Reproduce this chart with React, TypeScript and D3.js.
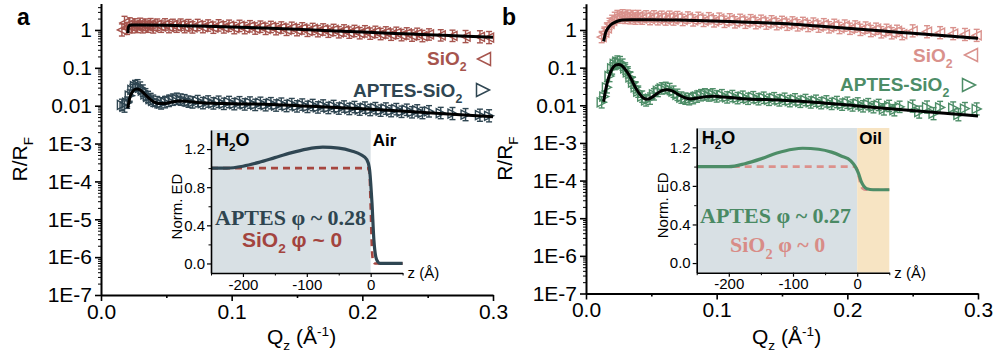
import React, { useEffect, useRef } from 'react'
import * as d3 from 'd3'

// axis ticks
const Q_TICKS = [0, 0.1, 0.2, 0.3]
const Q_MINOR = [0.05, 0.15, 0.25]
const R_TICKS = [1, 0.1, 0.01, 1e-3, 1e-4, 1e-5, 1e-6, 1e-7]
const R_LABELS = ['1', '0.1', '0.01', '1E-3', '1E-4', '1E-5', '1E-6', '1E-7']
const Z_TICKS = [-200, -100, 0]
const Z_MINOR = [-250, -150, -50, 50]
const ED_TICKS = [0, 0.4, 0.8, 1.2]
const ED_MINOR = [0.2, 0.6, 1.0]

// reflectivity data: [Qz, R/RF, error bar half-size in decades]
const SIO2_A = [
  [0.016, 1.00, 0.16], [0.018, 1.55, 0.17], [0.020, 1.10, 0.16], [0.022, 1.45, 0.16], [0.024, 1.18, 0.15],
  [0.026, 1.40, 0.15], [0.028, 1.20, 0.15], [0.030, 1.45, 0.15], [0.032, 1.18, 0.15], [0.034, 1.38, 0.15],
  [0.036, 1.22, 0.15], [0.038, 1.42, 0.15], [0.040, 1.17, 0.15], [0.043, 1.38, 0.15], [0.046, 1.22, 0.15],
  [0.049, 1.40, 0.15], [0.052, 1.19, 0.15], [0.055, 1.36, 0.15], [0.058, 1.22, 0.15], [0.061, 1.38, 0.15],
  [0.064, 1.19, 0.15], [0.067, 1.34, 0.15], [0.070, 1.17, 0.15], [0.074, 1.35, 0.15], [0.078, 1.19, 0.15],
  [0.082, 1.31, 0.15], [0.086, 1.15, 0.15], [0.090, 1.32, 0.15], [0.094, 1.17, 0.15], [0.098, 1.29, 0.15],
  [0.102, 1.12, 0.15], [0.106, 1.28, 0.15], [0.110, 1.12, 0.15], [0.114, 1.25, 0.15], [0.118, 1.09, 0.15],
  [0.122, 1.22, 0.15], [0.126, 1.07, 0.15], [0.130, 1.20, 0.15], [0.134, 1.05, 0.15], [0.138, 1.16, 0.15],
  [0.142, 1.01, 0.15], [0.146, 1.14, 0.15], [0.150, 0.99, 0.15], [0.154, 1.10, 0.15], [0.158, 0.95, 0.15],
  [0.162, 1.06, 0.15], [0.166, 0.93, 0.15], [0.170, 1.03, 0.15], [0.174, 0.90, 0.15], [0.178, 1.00, 0.15],
  [0.182, 0.87, 0.15], [0.186, 0.97, 0.15], [0.190, 0.85, 0.15], [0.194, 0.94, 0.15], [0.198, 0.82, 0.15],
  [0.202, 0.92, 0.15], [0.206, 0.80, 0.15], [0.210, 0.89, 0.15], [0.214, 0.78, 0.15], [0.218, 0.86, 0.15],
  [0.222, 0.75, 0.15], [0.226, 0.84, 0.15], [0.230, 0.73, 0.15], [0.234, 0.81, 0.15], [0.238, 0.71, 0.15],
  [0.242, 0.79, 0.15], [0.246, 0.69, 0.15], [0.251, 0.76, 0.15], [0.260, 0.72, 0.15], [0.269, 0.70, 0.15],
  [0.279, 0.67, 0.16], [0.290, 0.66, 0.16], [0.297, 0.63, 0.16],
]
const APTES_A = [
  [0.016, 0.0105, 0.15], [0.018, 0.0095, 0.15], [0.020, 0.0120, 0.15], [0.022, 0.0185, 0.15], [0.024, 0.0260, 0.15],
  [0.026, 0.0330, 0.15], [0.028, 0.0345, 0.15], [0.030, 0.0300, 0.15], [0.032, 0.0250, 0.15], [0.034, 0.0200, 0.15],
  [0.036, 0.0170, 0.15], [0.038, 0.0150, 0.15], [0.040, 0.0135, 0.15], [0.043, 0.0124, 0.15], [0.046, 0.0115, 0.15],
  [0.049, 0.0124, 0.15], [0.052, 0.0134, 0.15], [0.055, 0.0144, 0.15], [0.058, 0.0152, 0.15], [0.061, 0.0145, 0.15],
  [0.064, 0.0139, 0.15], [0.067, 0.0128, 0.15], [0.070, 0.0122, 0.15], [0.074, 0.0132, 0.15], [0.078, 0.0117, 0.15],
  [0.082, 0.0129, 0.15], [0.086, 0.0115, 0.15], [0.090, 0.0127, 0.15], [0.094, 0.0112, 0.15], [0.098, 0.0125, 0.15],
  [0.102, 0.0110, 0.15], [0.106, 0.0123, 0.15], [0.110, 0.0108, 0.15], [0.114, 0.0121, 0.15], [0.118, 0.0105, 0.15],
  [0.122, 0.0119, 0.15], [0.126, 0.0103, 0.15], [0.130, 0.0116, 0.15], [0.134, 0.0101, 0.15], [0.138, 0.0113, 0.15],
  [0.142, 0.0098, 0.15], [0.146, 0.0110, 0.15], [0.150, 0.0096, 0.15], [0.154, 0.0107, 0.15], [0.158, 0.0093, 0.15],
  [0.162, 0.0104, 0.15], [0.166, 0.0090, 0.15], [0.170, 0.0101, 0.15], [0.174, 0.0087, 0.15], [0.178, 0.0098, 0.15],
  [0.182, 0.0084, 0.15], [0.186, 0.0095, 0.15], [0.190, 0.0082, 0.15], [0.194, 0.0092, 0.15], [0.198, 0.0079, 0.15],
  [0.202, 0.0089, 0.15], [0.206, 0.0077, 0.15], [0.210, 0.0086, 0.15], [0.214, 0.0074, 0.15], [0.218, 0.0084, 0.15],
  [0.222, 0.0072, 0.15], [0.226, 0.0081, 0.15], [0.230, 0.0069, 0.15], [0.234, 0.0078, 0.15], [0.238, 0.0067, 0.15],
  [0.242, 0.0075, 0.15], [0.246, 0.0064, 0.15], [0.251, 0.0071, 0.15], [0.260, 0.0064, 0.15], [0.269, 0.0062, 0.16],
  [0.279, 0.0058, 0.16], [0.290, 0.0056, 0.16], [0.297, 0.0054, 0.16],
]
const SIO2_B = [
  [0.012, 0.65, 0.15], [0.014, 0.85, 0.15], [0.016, 1.10, 0.15], [0.018, 1.45, 0.15], [0.020, 1.75, 0.15],
  [0.022, 2.10, 0.15], [0.024, 2.35, 0.15], [0.026, 2.15, 0.15], [0.028, 2.45, 0.15], [0.030, 2.10, 0.15],
  [0.032, 2.40, 0.15], [0.034, 2.05, 0.15], [0.036, 2.35, 0.15], [0.038, 2.00, 0.15], [0.040, 2.35, 0.15],
  [0.043, 2.00, 0.15], [0.046, 2.30, 0.15], [0.049, 1.95, 0.15], [0.052, 2.30, 0.15], [0.055, 1.93, 0.15],
  [0.058, 2.25, 0.15], [0.061, 1.90, 0.15], [0.064, 2.25, 0.15], [0.067, 1.90, 0.15], [0.070, 2.20, 0.15],
  [0.074, 1.85, 0.15], [0.078, 2.15, 0.15], [0.082, 1.80, 0.15], [0.086, 2.10, 0.15], [0.090, 1.75, 0.15],
  [0.094, 2.05, 0.15], [0.098, 1.70, 0.15], [0.102, 2.00, 0.15], [0.106, 1.65, 0.15], [0.110, 1.92, 0.15],
  [0.114, 1.60, 0.15], [0.118, 1.86, 0.15], [0.122, 1.56, 0.15], [0.126, 1.82, 0.15], [0.130, 1.52, 0.15],
  [0.134, 1.76, 0.15], [0.138, 1.48, 0.15], [0.142, 1.70, 0.15], [0.146, 1.43, 0.15], [0.150, 1.64, 0.15],
  [0.154, 1.38, 0.15], [0.158, 1.59, 0.15], [0.162, 1.33, 0.15], [0.166, 1.54, 0.15], [0.170, 1.28, 0.15],
  [0.174, 1.48, 0.15], [0.178, 1.23, 0.15], [0.182, 1.42, 0.15], [0.186, 1.18, 0.15], [0.190, 1.37, 0.15],
  [0.194, 1.13, 0.15], [0.198, 1.31, 0.15], [0.202, 1.08, 0.15], [0.206, 1.24, 0.15], [0.210, 1.01, 0.15],
  [0.214, 1.16, 0.15], [0.218, 0.94, 0.15], [0.222, 1.08, 0.15], [0.226, 0.87, 0.15], [0.230, 1.01, 0.15],
  [0.234, 0.82, 0.15], [0.238, 0.95, 0.15], [0.242, 0.78, 0.15], [0.250, 0.95, 0.16], [0.261, 0.90, 0.16],
  [0.271, 0.85, 0.16], [0.281, 0.80, 0.16], [0.290, 0.76, 0.16], [0.299, 0.72, 0.16],
]
const APTES_B = [
  [0.012, 0.0120, 0.15], [0.014, 0.0170, 0.15], [0.016, 0.0300, 0.15], [0.018, 0.0600, 0.15], [0.020, 0.0950, 0.15],
  [0.022, 0.1250, 0.15], [0.024, 0.1450, 0.15], [0.026, 0.1400, 0.15], [0.028, 0.1200, 0.15], [0.030, 0.0950, 0.15],
  [0.032, 0.0750, 0.15], [0.034, 0.0550, 0.15], [0.036, 0.0400, 0.15], [0.038, 0.0300, 0.15], [0.040, 0.0230, 0.15],
  [0.043, 0.0170, 0.15], [0.046, 0.0135, 0.15], [0.049, 0.0150, 0.15], [0.052, 0.0195, 0.15], [0.055, 0.0240, 0.15],
  [0.058, 0.0280, 0.15], [0.061, 0.0290, 0.15], [0.064, 0.0270, 0.15], [0.067, 0.0230, 0.15], [0.070, 0.0190, 0.15],
  [0.073, 0.0160, 0.15], [0.076, 0.0150, 0.15], [0.079, 0.0145, 0.15], [0.082, 0.0155, 0.15], [0.085, 0.0170, 0.15],
  [0.088, 0.0185, 0.15], [0.091, 0.0195, 0.15], [0.094, 0.0182, 0.15], [0.097, 0.0195, 0.15], [0.100, 0.0172, 0.15],
  [0.104, 0.0185, 0.15], [0.108, 0.0162, 0.15], [0.112, 0.0176, 0.15], [0.116, 0.0155, 0.15], [0.120, 0.0169, 0.15],
  [0.124, 0.0149, 0.15], [0.128, 0.0164, 0.15], [0.132, 0.0145, 0.15], [0.136, 0.0159, 0.15], [0.140, 0.0140, 0.15],
  [0.144, 0.0154, 0.15], [0.148, 0.0135, 0.15], [0.152, 0.0149, 0.15], [0.156, 0.0129, 0.15], [0.160, 0.0144, 0.15],
  [0.164, 0.0124, 0.15], [0.168, 0.0138, 0.15], [0.172, 0.0119, 0.15], [0.176, 0.0132, 0.15], [0.180, 0.0114, 0.15],
  [0.184, 0.0127, 0.15], [0.188, 0.0109, 0.15], [0.192, 0.0122, 0.15], [0.196, 0.0104, 0.15], [0.200, 0.0117, 0.15],
  [0.204, 0.0099, 0.15], [0.208, 0.0112, 0.15], [0.212, 0.0094, 0.15], [0.216, 0.0107, 0.15], [0.220, 0.0089, 0.15],
  [0.224, 0.0102, 0.15], [0.228, 0.0078, 0.15], [0.232, 0.0096, 0.15], [0.236, 0.0074, 0.15], [0.240, 0.0091, 0.15],
  [0.250, 0.0095, 0.16], [0.255, 0.0066, 0.16], [0.261, 0.0090, 0.16], [0.266, 0.0060, 0.16], [0.271, 0.0088, 0.16],
  [0.281, 0.0085, 0.16], [0.285, 0.0056, 0.16], [0.290, 0.0082, 0.16], [0.299, 0.0080, 0.16],
]

// model fits: [Qz, R/RF]
const FIT_SIO2_A = [
  [0.0205, 0.82], [0.021, 1.2], [0.022, 1.33], [0.024, 1.35], [0.03, 1.35], [0.05, 1.33], [0.075, 1.27],
  [0.1, 1.2], [0.125, 1.12], [0.15, 1.04], [0.175, 0.96], [0.2, 0.88], [0.225, 0.81], [0.25, 0.75],
  [0.275, 0.69], [0.3, 0.64],
]
const FIT_APTES_A = [
  [0.0205, 0.0085], [0.022, 0.016], [0.024, 0.023], [0.026, 0.027], [0.028, 0.0275], [0.030, 0.026],
  [0.033, 0.021], [0.036, 0.0165], [0.040, 0.0128], [0.044, 0.0115], [0.048, 0.0114], [0.054, 0.0125],
  [0.060, 0.0133], [0.066, 0.013], [0.074, 0.0122], [0.085, 0.0116], [0.1, 0.0113], [0.13, 0.0108],
  [0.16, 0.0097], [0.2, 0.0083], [0.25, 0.0065], [0.3, 0.0051],
]
const FIT_SIO2_B = [
  [0.0135, 0.5], [0.015, 0.85], [0.017, 1.15], [0.019, 1.38], [0.022, 1.6], [0.025, 1.76], [0.028, 1.85],
  [0.035, 1.88], [0.05, 1.88], [0.07, 1.84], [0.09, 1.77], [0.11, 1.68], [0.13, 1.58], [0.15, 1.48],
  [0.175, 1.3], [0.2, 1.12], [0.225, 0.95], [0.25, 0.82], [0.275, 0.7], [0.3, 0.6],
]
const FIT_APTES_B = [
  [0.0135, 0.0125], [0.015, 0.025], [0.017, 0.05], [0.019, 0.08], [0.021, 0.105], [0.023, 0.119],
  [0.025, 0.122], [0.027, 0.116], [0.029, 0.1], [0.032, 0.072], [0.035, 0.047], [0.038, 0.029],
  [0.041, 0.02], [0.044, 0.0155], [0.047, 0.0144], [0.050, 0.016], [0.054, 0.02], [0.058, 0.0245],
  [0.062, 0.026], [0.066, 0.024], [0.070, 0.02], [0.075, 0.0162], [0.080, 0.0147], [0.086, 0.0158],
  [0.092, 0.017], [0.098, 0.0174], [0.105, 0.0166], [0.12, 0.015], [0.15, 0.0137], [0.18, 0.0117],
  [0.21, 0.0095], [0.24, 0.0077], [0.27, 0.0063], [0.3, 0.0052],
]

// electron density profiles: [z (Å), norm. ED]
const ED_APTES_A = [
  [-250, 1.0], [-225, 1.0], [-200, 1.02], [-175, 1.06], [-150, 1.11], [-125, 1.16], [-100, 1.2],
  [-75, 1.22], [-50, 1.21], [-30, 1.18], [-15, 1.14], [-6, 1.09], [-2, 1.0], [2, 0.64], [5, 0.25],
  [8, 0.07], [11, 0.02], [15, 0.0], [50, 0.0],
]
const ED_SIO2_A = [[-250, 1.0], [-5, 1.0], [-2, 0.96], [0, 0.6], [2, 0.15], [4, 0.02], [7, 0.0], [50, 0.0]]
const ED_APTES_B = [
  [-250, 1.0], [-200, 1.0], [-175, 1.03], [-150, 1.08], [-125, 1.14], [-100, 1.18], [-85, 1.19],
  [-60, 1.18], [-40, 1.15], [-25, 1.11], [-10, 1.06], [-3, 1.0], [2, 0.93], [6, 0.85], [10, 0.8],
  [15, 0.77], [25, 0.76], [50, 0.76],
]
const ED_SIO2_B = [[-250, 1.0], [-4, 1.0], [0, 0.97], [3, 0.88], [6, 0.8], [9, 0.77], [13, 0.76], [50, 0.76]]

const SANS = 'Liberation Sans, Arial, sans-serif'
const SERIF = 'Liberation Serif, Times New Roman, serif'

const PANELS = [
  {
    letter: 'a', x0: 101, x1: 493, yTop: 3.5, yBot: 295,
    sio2: SIO2_A, aptes: APTES_A, fitS: FIT_SIO2_A, fitA: FIT_APTES_A,
    cS: '#a6544d', cA: '#2f4652',
    legS: { x: 427, y: 65, tx: 484, ty: 59 }, legA: { x: 353, y: 97, tx: 483, ty: 90 },
    inset: {
      x0: 211, x1: 402.6, yTop: 130, yBot: 273, right: null, rightLabel: 'Air',
      edA: ED_APTES_A, edS: ED_SIO2_A, cLineA: '#2f4652', cLineS: '#a6463f',
      phiA: 'APTES φ ~ 0.28', phiAcol: '#2e4550', phiAx: 215,
      phiScol: '#a3443e', phiSx: 242, phiSy: 247, phiSfont: SANS, phiSsize: 21,
    },
  },
  {
    letter: 'b', x0: 586, x1: 978, yTop: 3.7, yBot: 293.5,
    sio2: SIO2_B, aptes: APTES_B, fitS: FIT_SIO2_B, fitA: FIT_APTES_B,
    cS: '#d9918c', cA: '#4d8d67',
    legS: { x: 913, y: 62, tx: 971, ty: 55 }, legA: { x: 840, y: 91, tx: 969, ty: 85 },
    inset: {
      x0: 696.7, x1: 889.3, yTop: 128, yBot: 272.7, right: '#f7e4c3', rightLabel: 'Oil',
      edA: ED_APTES_B, edS: ED_SIO2_B, cLineA: '#4d8d67', cLineS: '#dc918c',
      phiA: 'APTES φ ~ 0.27', phiAcol: '#4a8a64', phiAx: 700,
      phiScol: '#d88c87', phiSx: 730, phiSy: 252, phiSfont: SERIF, phiSsize: 22,
    },
  },
]

type Part = { t: string; sub?: boolean; sup?: boolean }

function rich(g: any, x: number, y: number, parts: Part[], fs: number, attrs: Record<string, any>) {
  const t = g.append('text').attr('x', x).attr('y', y).attr('font-size', fs)
  Object.entries(attrs).forEach(([k, v]) => t.attr(k, v))
  let shift = 0
  parts.forEach(p => {
    const target = p.sub ? fs * 0.3 : p.sup ? -fs * 0.4 : 0
    const ts = t.append('tspan').attr('dy', target - shift).text(p.t)
    if (p.sub || p.sup) ts.attr('font-size', fs * 0.65)
    shift = target
  })
  return t
}

function triPath(dir: string, s: number) {
  return dir === 'L' ? `M${-s},0L${s},${-s}L${s},${s}Z` : `M${s},0L${-s},${-s}L${-s},${s}Z`
}

export default function App() {
  const ref = useRef<SVGSVGElement>(null)

  useEffect(() => {
    const svg = d3.select(ref.current)
    svg.selectAll('*').remove()

    const minorR: number[] = []
    for (let e = -7; e <= 0; e++) for (let k = 2; k <= 9; k++) {
      const v = k * Math.pow(10, e)
      if (v < 5) minorR.push(v)
    }

    PANELS.forEach(p => {
      const g = svg.append('g')
      const x = d3.scaleLinear().domain([0, 0.3]).range([p.x0, p.x1])
      const y = d3.scaleLog().domain([1e-7, 5]).range([p.yBot, p.yTop])

      // data markers with error bars
      const drawSeries = (data: number[][], color: string, dir: string) => {
        const sg = g.append('g').attr('stroke', color).attr('fill', 'none').attr('stroke-width', 1.4)
        data.forEach(([q, r, e]) => {
          const cx = x(q), cy = y(r)
          const lo = y(r / Math.pow(10, e)), hi = y(r * Math.pow(10, e))
          sg.append('line').attr('x1', cx).attr('x2', cx).attr('y1', lo).attr('y2', hi)
          sg.append('line').attr('x1', cx - 3).attr('x2', cx + 3).attr('y1', lo).attr('y2', lo)
          sg.append('line').attr('x1', cx - 3).attr('x2', cx + 3).attr('y1', hi).attr('y2', hi)
          sg.append('path').attr('d', triPath(dir, 4.5)).attr('transform', `translate(${cx},${cy})`)
        })
      }
      drawSeries(p.sio2, p.cS, 'L')
      drawSeries(p.aptes, p.cA, 'R')

      const line = d3.line<number[]>().x(d => x(d[0])).y(d => y(d[1])).curve(d3.curveMonotoneX)
      g.append('path').attr('d', line(p.fitS)).attr('fill', 'none').attr('stroke', '#000').attr('stroke-width', 3)
      g.append('path').attr('d', line(p.fitA)).attr('fill', 'none').attr('stroke', '#000').attr('stroke-width', 3)

      // axes
      const styleAxis = (sel: any, fs: number) => {
        sel.attr('font-family', SANS).attr('font-size', fs)
        sel.selectAll('path.domain').attr('stroke', '#000').attr('stroke-width', 2)
        sel.selectAll('.tick line').attr('stroke', '#000').attr('stroke-width', 1.6)
        sel.selectAll('.tick text').attr('fill', '#000')
      }
      const xa = g.append('g').attr('transform', `translate(0,${p.yBot})`)
        .call(d3.axisBottom(x).tickValues(Q_TICKS).tickFormat(d3.format('.1f')).tickSize(6).tickSizeOuter(0).tickPadding(3))
      styleAxis(xa, 21)
      const xm = g.append('g').attr('transform', `translate(0,${p.yBot})`)
        .call(d3.axisBottom(x).tickValues(Q_MINOR).tickFormat(() => '').tickSize(3).tickSizeOuter(0))
      styleAxis(xm, 21)
      xm.select('path.domain').remove()

      const ya = g.append('g').attr('transform', `translate(${p.x0},0)`)
        .call(d3.axisLeft(y).tickValues(R_TICKS).tickFormat((d: any) => R_LABELS[R_TICKS.indexOf(d)]).tickSize(6).tickSizeOuter(0).tickPadding(3))
      styleAxis(ya, 21)
      const ym = g.append('g').attr('transform', `translate(${p.x0},0)`)
        .call(d3.axisLeft(y).tickValues(minorR).tickFormat(() => '').tickSize(3).tickSizeOuter(0))
      styleAxis(ym, 21)
      ym.select('path.domain').remove()
      ym.selectAll('.tick line').attr('stroke-width', 1)

      // axis titles
      const yc = (p.yBot + p.yTop) / 2 + 10
      const yt = g.append('g').attr('transform', `translate(${p.x0 - 74},${yc}) rotate(-90)`)
      rich(yt, 0, 0, [{ t: 'R/R' }, { t: 'F', sub: true }], 21, { 'font-family': SANS, 'text-anchor': 'middle' })
      rich(g, p.x0 + 166, 344, [{ t: 'Q' }, { t: 'z', sub: true }, { t: ' (Å' }, { t: '-1', sup: true }, { t: ')' }], 21,
        { 'font-family': SANS })

      g.append('text').attr('x', p.x0 - 84).attr('y', 25).attr('font-family', SANS).attr('font-weight', 'bold')
        .attr('font-size', 23).text(p.letter)

      // legend
      rich(g, p.legS.x, p.legS.y, [{ t: 'SiO' }, { t: '2', sub: true }], 19,
        { 'font-family': SANS, 'font-weight': 'bold', fill: p.cS })
      g.append('path').attr('d', triPath('L', 6.5)).attr('transform', `translate(${p.legS.tx},${p.legS.ty})`)
        .attr('fill', 'none').attr('stroke', p.cS).attr('stroke-width', 1.5)
      rich(g, p.legA.x, p.legA.y, [{ t: 'APTES-SiO' }, { t: '2', sub: true }], 19,
        { 'font-family': SANS, 'font-weight': 'bold', fill: p.cA })
      g.append('path').attr('d', triPath('R', 6.5)).attr('transform', `translate(${p.legA.tx},${p.legA.ty})`)
        .attr('fill', 'none').attr('stroke', p.cA).attr('stroke-width', 1.5)

      // inset: electron density profile
      const s = p.inset
      const ix = d3.scaleLinear().domain([-250, 50]).range([s.x0, s.x1])
      const iy = d3.scaleLinear().domain([-0.1, 1.4]).range([s.yBot, s.yTop])
      const ig = g.append('g')
      ig.append('rect').attr('x', ix(-250)).attr('y', iy(1.4)).attr('width', ix(0) - ix(-250))
        .attr('height', iy(-0.1) - iy(1.4)).attr('fill', '#d8e0e4')
      if (s.right) {
        ig.append('rect').attr('x', ix(0)).attr('y', iy(1.4)).attr('width', ix(50) - ix(0))
          .attr('height', iy(-0.1) - iy(1.4)).attr('fill', s.right)
      }
      const iline = d3.line<number[]>().x(d => ix(d[0])).y(d => iy(d[1])).curve(d3.curveMonotoneX)
      ig.append('path').attr('d', iline(s.edS)).attr('fill', 'none').attr('stroke', s.cLineS)
        .attr('stroke-width', 2.6).attr('stroke-dasharray', '7,5')
      ig.append('path').attr('d', iline(s.edA)).attr('fill', 'none').attr('stroke', s.cLineA)
        .attr('stroke-width', 3.2)

      const ixa = ig.append('g').attr('transform', `translate(0,${s.yBot})`)
        .call(d3.axisBottom(ix).tickValues(Z_TICKS).tickSize(4).tickSizeOuter(0).tickPadding(2))
      styleAxis(ixa, 15)
      ixa.selectAll('path.domain').attr('stroke-width', 1.6)
      ixa.selectAll('.tick line').attr('stroke-width', 1.2)
      ixa.selectAll('.tick text').text((d: any) => (d < 0 ? '-' + Math.abs(d) : String(d)))
      const ixm = ig.append('g').attr('transform', `translate(0,${s.yBot})`)
        .call(d3.axisBottom(ix).tickValues(Z_MINOR).tickFormat(() => '').tickSize(2.5).tickSizeOuter(0))
      ixm.select('path.domain').remove()
      ixm.selectAll('.tick line').attr('stroke', '#000').attr('stroke-width', 1)

      const iya = ig.append('g').attr('transform', `translate(${s.x0},0)`)
        .call(d3.axisLeft(iy).tickValues(ED_TICKS).tickFormat(d3.format('.1f')).tickSize(4).tickSizeOuter(0).tickPadding(2))
      styleAxis(iya, 15)
      iya.selectAll('path.domain').attr('stroke-width', 1.6)
      iya.selectAll('.tick line').attr('stroke-width', 1.2)
      const iym = ig.append('g').attr('transform', `translate(${s.x0},0)`)
        .call(d3.axisLeft(iy).tickValues(ED_MINOR).tickFormat(() => '').tickSize(2.5).tickSizeOuter(0))
      iym.select('path.domain').remove()
      iym.selectAll('.tick line').attr('stroke', '#000').attr('stroke-width', 1)

      const nt = ig.append('g').attr('transform', `translate(${s.x0 - 29},${(s.yTop + s.yBot) / 2 + 5}) rotate(-90)`)
      nt.append('text').attr('text-anchor', 'middle').attr('font-family', SANS).attr('font-size', 15).text('Norm. ED')
      rich(ig, s.x1 + 5, s.yBot + 5, [{ t: 'z (Å)' }], 15, { 'font-family': SANS })

      rich(ig, s.x0 + 5, s.yTop + 16, [{ t: 'H' }, { t: '2', sub: true }, { t: 'O' }], 18,
        { 'font-family': SANS, 'font-weight': 'bold' })
      ig.append('text').attr('x', ix(0) + 2).attr('y', s.yTop + 16).attr('font-family', SANS)
        .attr('font-weight', 'bold').attr('font-size', 17).text(s.rightLabel)

      ig.append('text').attr('x', s.phiAx).attr('y', s.yTop + 95).attr('font-family', SERIF)
        .attr('font-weight', 'bold').attr('font-size', 22).attr('fill', s.phiAcol).text(s.phiA)
      rich(ig, s.phiSx, s.phiSy, [{ t: 'SiO' }, { t: '2', sub: true }, { t: ' φ ~ 0' }], s.phiSsize,
        { 'font-family': s.phiSfont, 'font-weight': 'bold', fill: s.phiScol })
    })
  }, [])

  return (
    <div style={{ position: 'absolute', left: 0, top: 0 }}>
      <svg ref={ref} width={997} height={355} style={{ display: 'block', background: '#fff' }} />
    </div>
  )
}
